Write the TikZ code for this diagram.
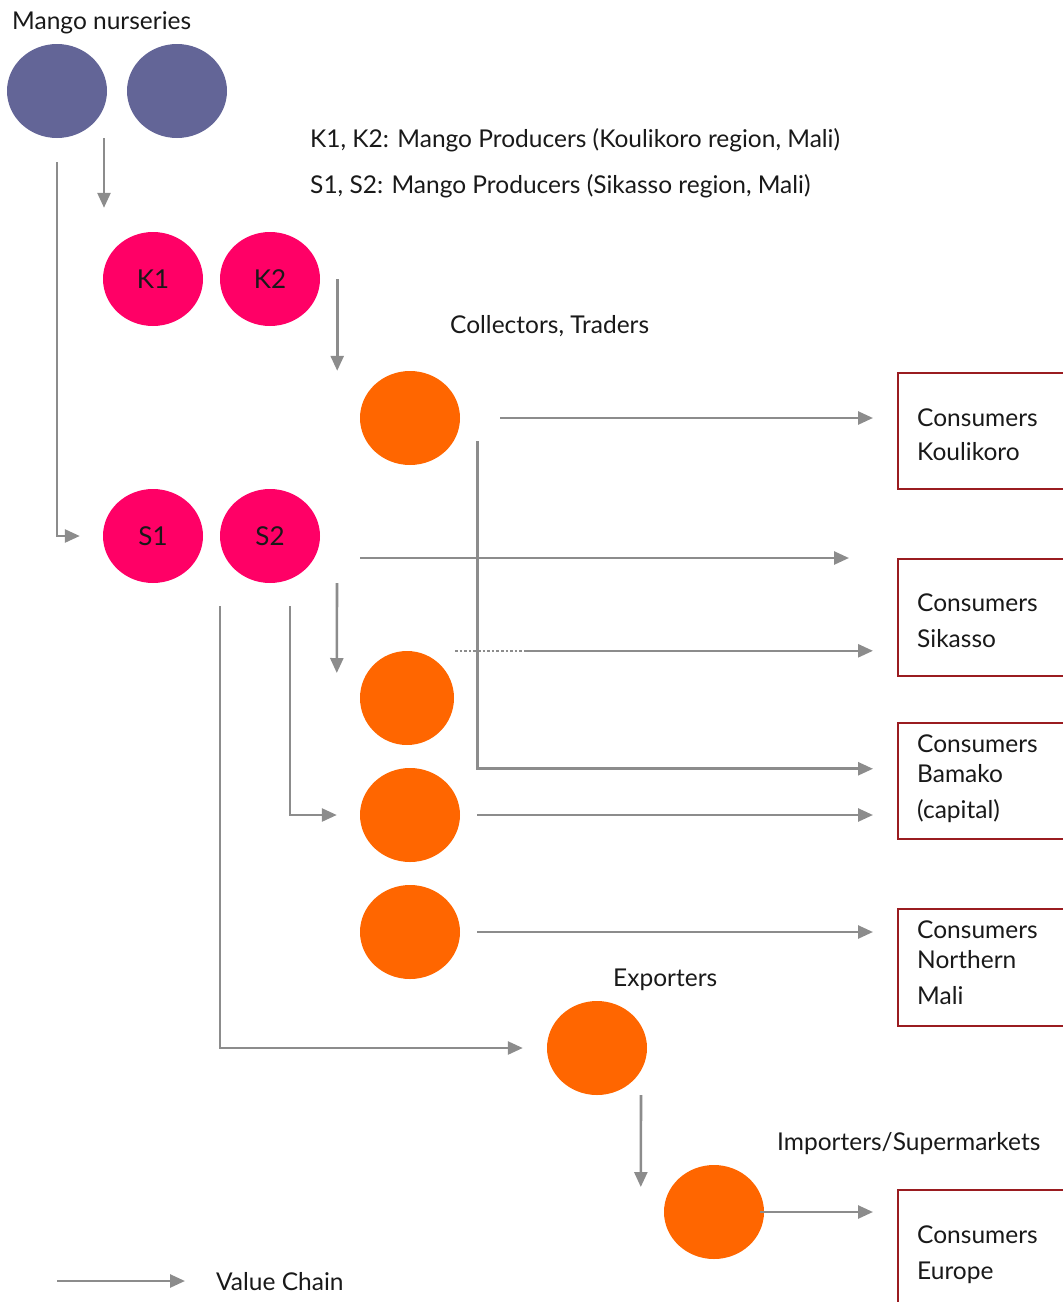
\documentclass[tikz,border=0pt]{standalone}
\usepackage{fontspec}
\setmainfont{Lato}
\usetikzlibrary{arrows.meta,shapes.geometric,calc}
\definecolor{nursery}{HTML}{636597}
\definecolor{producer}{HTML}{FF0066}
\definecolor{trader}{HTML}{FF6600}
\definecolor{chain}{HTML}{8C8C8C}
\definecolor{consumer}{HTML}{9A1C20}
\begin{document}
\begin{tikzpicture}[x=1pt,y=-1pt,
  every node/.style={font=\fontsize{24.5}{30}\selectfont,text=black!90},
  blob/.style={ellipse,inner sep=0pt,minimum width=100pt,minimum height=94pt},
  nurs/.style={blob,fill=nursery},
  prod/.style={blob,fill=producer,font=\fontsize{26}{30}\selectfont},
  trad/.style={blob,fill=trader},
  cbox/.style={draw=consumer,line width=1.5pt,anchor=north west,minimum width=220pt,inner sep=0pt},
  ctext/.style={anchor=north west,align=left,inner sep=0pt},
  lbl/.style={anchor=west,inner sep=0pt},
  vc/.style={draw=chain,line width=2.6pt,-{Triangle[length=15pt,width=13pt]}},
  vcdot/.style={draw=chain,line width=2.6pt,dotted}]
\useasboundingbox (0,0) rectangle (1063,1302);
\clip (0,0) rectangle (1063,1302);

% stages of the chain
\node[nurs] (n1) at (57,91) {};
\node[nurs] (n2) at (177,91) {};
\node[prod] (k1) at (153,279) {K1};
\node[prod] (k2) at (270,279) {K2};
\node[prod] (s1) at (153,536) {S1};
\node[prod] (s2) at (270,536) {S2};
\node[trad] (c1) at (410,418) {};
\node[trad,minimum width=94pt] (c2) at (407,698) {};
\node[trad] (c3) at (410,815) {};
\node[trad] (c4) at (410,932) {};
\node[trad] (ex) at (597,1048) {};
\node[trad] (im) at (714,1212) {};

% consumer markets (boxes run off the right edge)
\node[cbox,minimum height=116pt] (ck) at (897,372) {};
\node[cbox,minimum height=117pt] (cs) at (897,558) {};
\node[cbox,minimum height=116pt] (cb) at (897,722) {};
\node[cbox,minimum height=117pt] (cn) at (897,908) {};
\node[cbox,minimum height=140pt] (ce) at (897,1189) {};

\node[ctext] at (917,409) {Consumers\\[4pt]Koulikoro};
\node[ctext] at (917,594) {Consumers\\[6pt]Sikasso};
\node[ctext] at (917,735) {Consumers\\[0pt]Bamako\\[6pt](capital)};
\node[ctext] at (917,921) {Consumers\\[0pt]Northern\\[6pt]Mali};
\node[ctext] at (917,1226) {Consumers\\[6pt]Europe};

% labels
\node[lbl] at (12,23) {Mango nurseries};
\node[lbl] at (310,140) {K1, K2: Mango Producers (Koulikoro region, Mali)};
\node[lbl] at (310,186) {S1, S2: Mango Producers (Sikasso region, Mali)};
\node[lbl] at (450,326) {Collectors, Traders};
\node[lbl] at (613,980) {Exporters};
\node[lbl] at (777,1144) {Importers/Supermarkets};

% value chain flows
\draw[vc] ($(n1.south)+(47,0)$) -- ($(n1.south |- k1.north)+(47,-24)$);
\draw[vc] ($(n1.south)+(0,24)$) |- ($(s1.west)+(-23,0)$);
\draw[vc] ($(k2.east)+(17,0)$) -- ($(k2.east |- c1.north)+(17,0)$);
\draw[vc] ($(c1.east)+(40,0)$) -- ($(ck.west |- c1)+(-24,0)$);
\draw[vc] ($(c1.east)+(17,23)$) |- ($(cb.west)+(-24,-12)$);
\draw[vc] ($(s2.east)+(40,22)$) -- ($(cs.north west)+(-48,0)$);
\draw[vc] ($(s2.south)+(67,0)$) -- ($(c2.west)+(-23,-25)$);
\draw[vcdot] ($(c2.north)+(48,0)$) -- ($(c2.north)+(118,0)$);
\draw[vc] ($(c2.north)+(118,0)$) -- ($(cs.west |- c2.north)+(-24,0)$);
\draw[vc] ($(s2.south)+(20,23)$) |- ($(c3.west)+(-23,0)$);
\draw[vc] ($(c3.east)+(17,0)$) -- ($(cb.west |- c3)+(-24,0)$);
\draw[vc] ($(c4.east)+(17,0)$) -- ($(cn.west |- c4)+(-24,0)$);
\draw[vc] ($(s2.south)+(-50,23)$) |- ($(ex.west)+(-24,0)$);
\draw[vc] ($(ex.south)+(44,0)$) -- ($(im.west)+(-23,-25)$);
\draw[vc] ($(im.east)+(-4,0)$) -- ($(ce.west |- im)+(-24,0)$);

% legend
\coordinate (la) at (57,1281);
\coordinate (lb) at (185,1281);
\draw[vc] (la) -- (lb);
\node[lbl] at (216,1282) {Value Chain};
\end{tikzpicture}
\end{document}
